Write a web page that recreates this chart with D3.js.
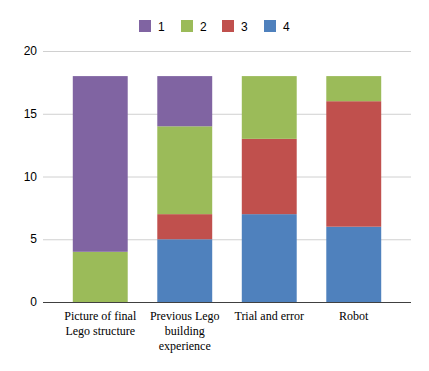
<!DOCTYPE html>
<html><head><meta charset="utf-8">
<script src="https://cdn.jsdelivr.net/npm/d3@7"></script>
<style>body{margin:0;background:#fff}svg{display:block}</style>
</head><body>
<svg id="c" width="429" height="371"></svg>
<script>
const categories = [["Picture of final","Lego structure"],["Previous Lego","building","experience"],["Trial and error"],["Robot"]];
const seriesNames = ["1","2","3","4"];
const s1 = [14, 4, 0, 0];
const s2 = [4, 7, 5, 2];
const s3 = [0, 2, 6, 10];
const s4 = [0, 5, 7, 6];
const colors = ["#8064A2","#9BBB59","#C0504D","#4F81BD"];
const yTicks = [0,5,10,15,20];

const svg = d3.select("#c");
const keys = categories.map((c,i)=>"c"+i);
const rows = keys.map((k,i)=>({key:k, "4":s4[i], "3":s3[i], "2":s2[i], "1":s1[i]}));
const stackOrder = ["4","3","2","1"];
const stacked = d3.stack().keys(stackOrder)(rows);

const x = d3.scaleBand().domain(keys).range([58,396]).paddingInner(0.35).paddingOuter(0.175);
const y = d3.scaleLinear().domain([0,20]).range([302,51]);

// gridlines
svg.append("g").selectAll("line").data(yTicks.filter(t=>t>0)).join("line")
  .attr("x1",43).attr("x2",411).attr("y1",d=>y(d)+0.5).attr("y2",d=>y(d)+0.5)
  .attr("stroke","#d0d0d0").attr("stroke-width",1);

// y labels
svg.append("g").selectAll("text").data(yTicks).join("text")
  .attr("x",37).attr("y",d=>y(d)+4).attr("text-anchor","end")
  .attr("font-family","'Liberation Sans', Arial, sans-serif").attr("font-size",12).attr("fill","#000")
  .text(d=>d);

// bars
const colorOf = {"1":colors[0],"2":colors[1],"3":colors[2],"4":colors[3]};
stacked.forEach(layer=>{
  svg.append("g").selectAll("rect").data(layer).join("rect")
    .attr("x",d=>x(d.data.key)).attr("width",x.bandwidth())
    .attr("y",d=>y(d[1])).attr("height",d=>y(d[0])-y(d[1]))
    .attr("fill",colorOf[layer.key]);
});

// x axis line
svg.append("line").attr("x1",43).attr("x2",411).attr("y1",302.5).attr("y2",302.5)
  .attr("stroke","#404040").attr("stroke-width",1);

// category labels
const lab = svg.append("g").selectAll("text").data(categories.map((c,i)=>({lines:c,key:keys[i]}))).join("text")
  .attr("text-anchor","middle")
  .attr("font-family","'Liberation Serif', 'Times New Roman', serif").attr("font-size",12).attr("fill","#000");
lab.each(function(d){
  const t = d3.select(this);
  d.lines.forEach((ln,j)=>{
    t.append("tspan").attr("x",x(d.key)+x.bandwidth()/2).attr("y",320+j*15).text(ln);
  });
});

// legend
const legX = [139,181,222,264];
const leg = svg.append("g").selectAll("g").data(seriesNames).join("g")
  .attr("transform",(d,i)=>`translate(${legX[i]},20)`);
leg.append("rect").attr("width",12).attr("height",12).attr("fill",(d,i)=>colors[i]);
leg.append("text").attr("x",19).attr("y",10.5)
  .attr("font-family","'Liberation Sans', Arial, sans-serif").attr("font-size",12).attr("fill","#000")
  .text(d=>d);
</script>
</body></html>
